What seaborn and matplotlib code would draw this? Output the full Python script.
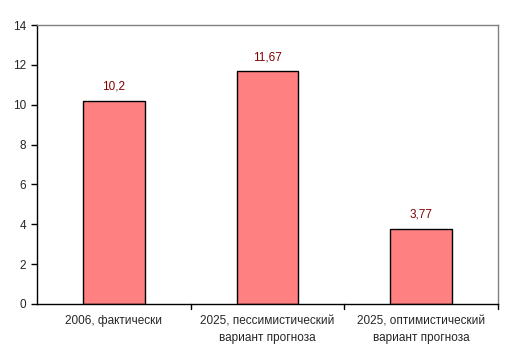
import matplotlib
matplotlib.use("Agg")
import matplotlib.pyplot as plt
import seaborn as sns
import pandas as pd

categories = ["2006, фактически", "2025, пессимистический\nвариант прогноза", "2025, оптимистический\nвариант прогноза"]
values = [10.2, 11.67, 3.77]
value_labels = ["10,2", "11,67", "3,77"]
yticks = [0, 2, 4, 6, 8, 10, 12, 14]

sns.set_style("white")
plt.rcParams['font.family'] = ['Liberation Sans', 'DejaVu Sans']

fig = plt.figure(figsize=(5.13, 3.61), dpi=100)
ax = fig.add_axes([37/513, 1-304/361, (498-37)/513, (304-25)/361])
df = pd.DataFrame({"cat": categories, "val": values})
sns.barplot(data=df, x="cat", y="val", ax=ax, color="#FF8080", saturation=1,
            width=0.4, edgecolor="black", linewidth=1)
ax.set_xlim(-0.5, 2.5)
ax.set_ylim(0, 14)
ax.set_yticks(yticks)
ax.set_yticklabels([str(t) for t in yticks], fontsize=8.5)
ax.set_xlabel("")
ax.set_ylabel("")
ax.set_xticks([0, 1, 2])
ax.set_xticklabels(categories, fontsize=8.5, linespacing=1.55)
ax.tick_params(axis="x", length=0, pad=8)
ax.tick_params(axis="y", length=4, width=1, direction="out", left=True, color="black", pad=4)
for x in [0.5, 1.5, 2.5]:
    ax.plot([x, x], [0, -0.25], color="black", lw=1, clip_on=False)
for s in ["left", "bottom"]:
    ax.spines[s].set_color("black")
    ax.spines[s].set_linewidth(1)
for s in ["top", "right"]:
    ax.spines[s].set_color("#808080")
    ax.spines[s].set_linewidth(1)
for i, (v, lab) in enumerate(zip(values, value_labels)):
    ax.text(i, v + 0.4, lab, ha="center", va="bottom", fontsize=8.5, color="#800000")
fig.savefig("out.png", dpi=100)
